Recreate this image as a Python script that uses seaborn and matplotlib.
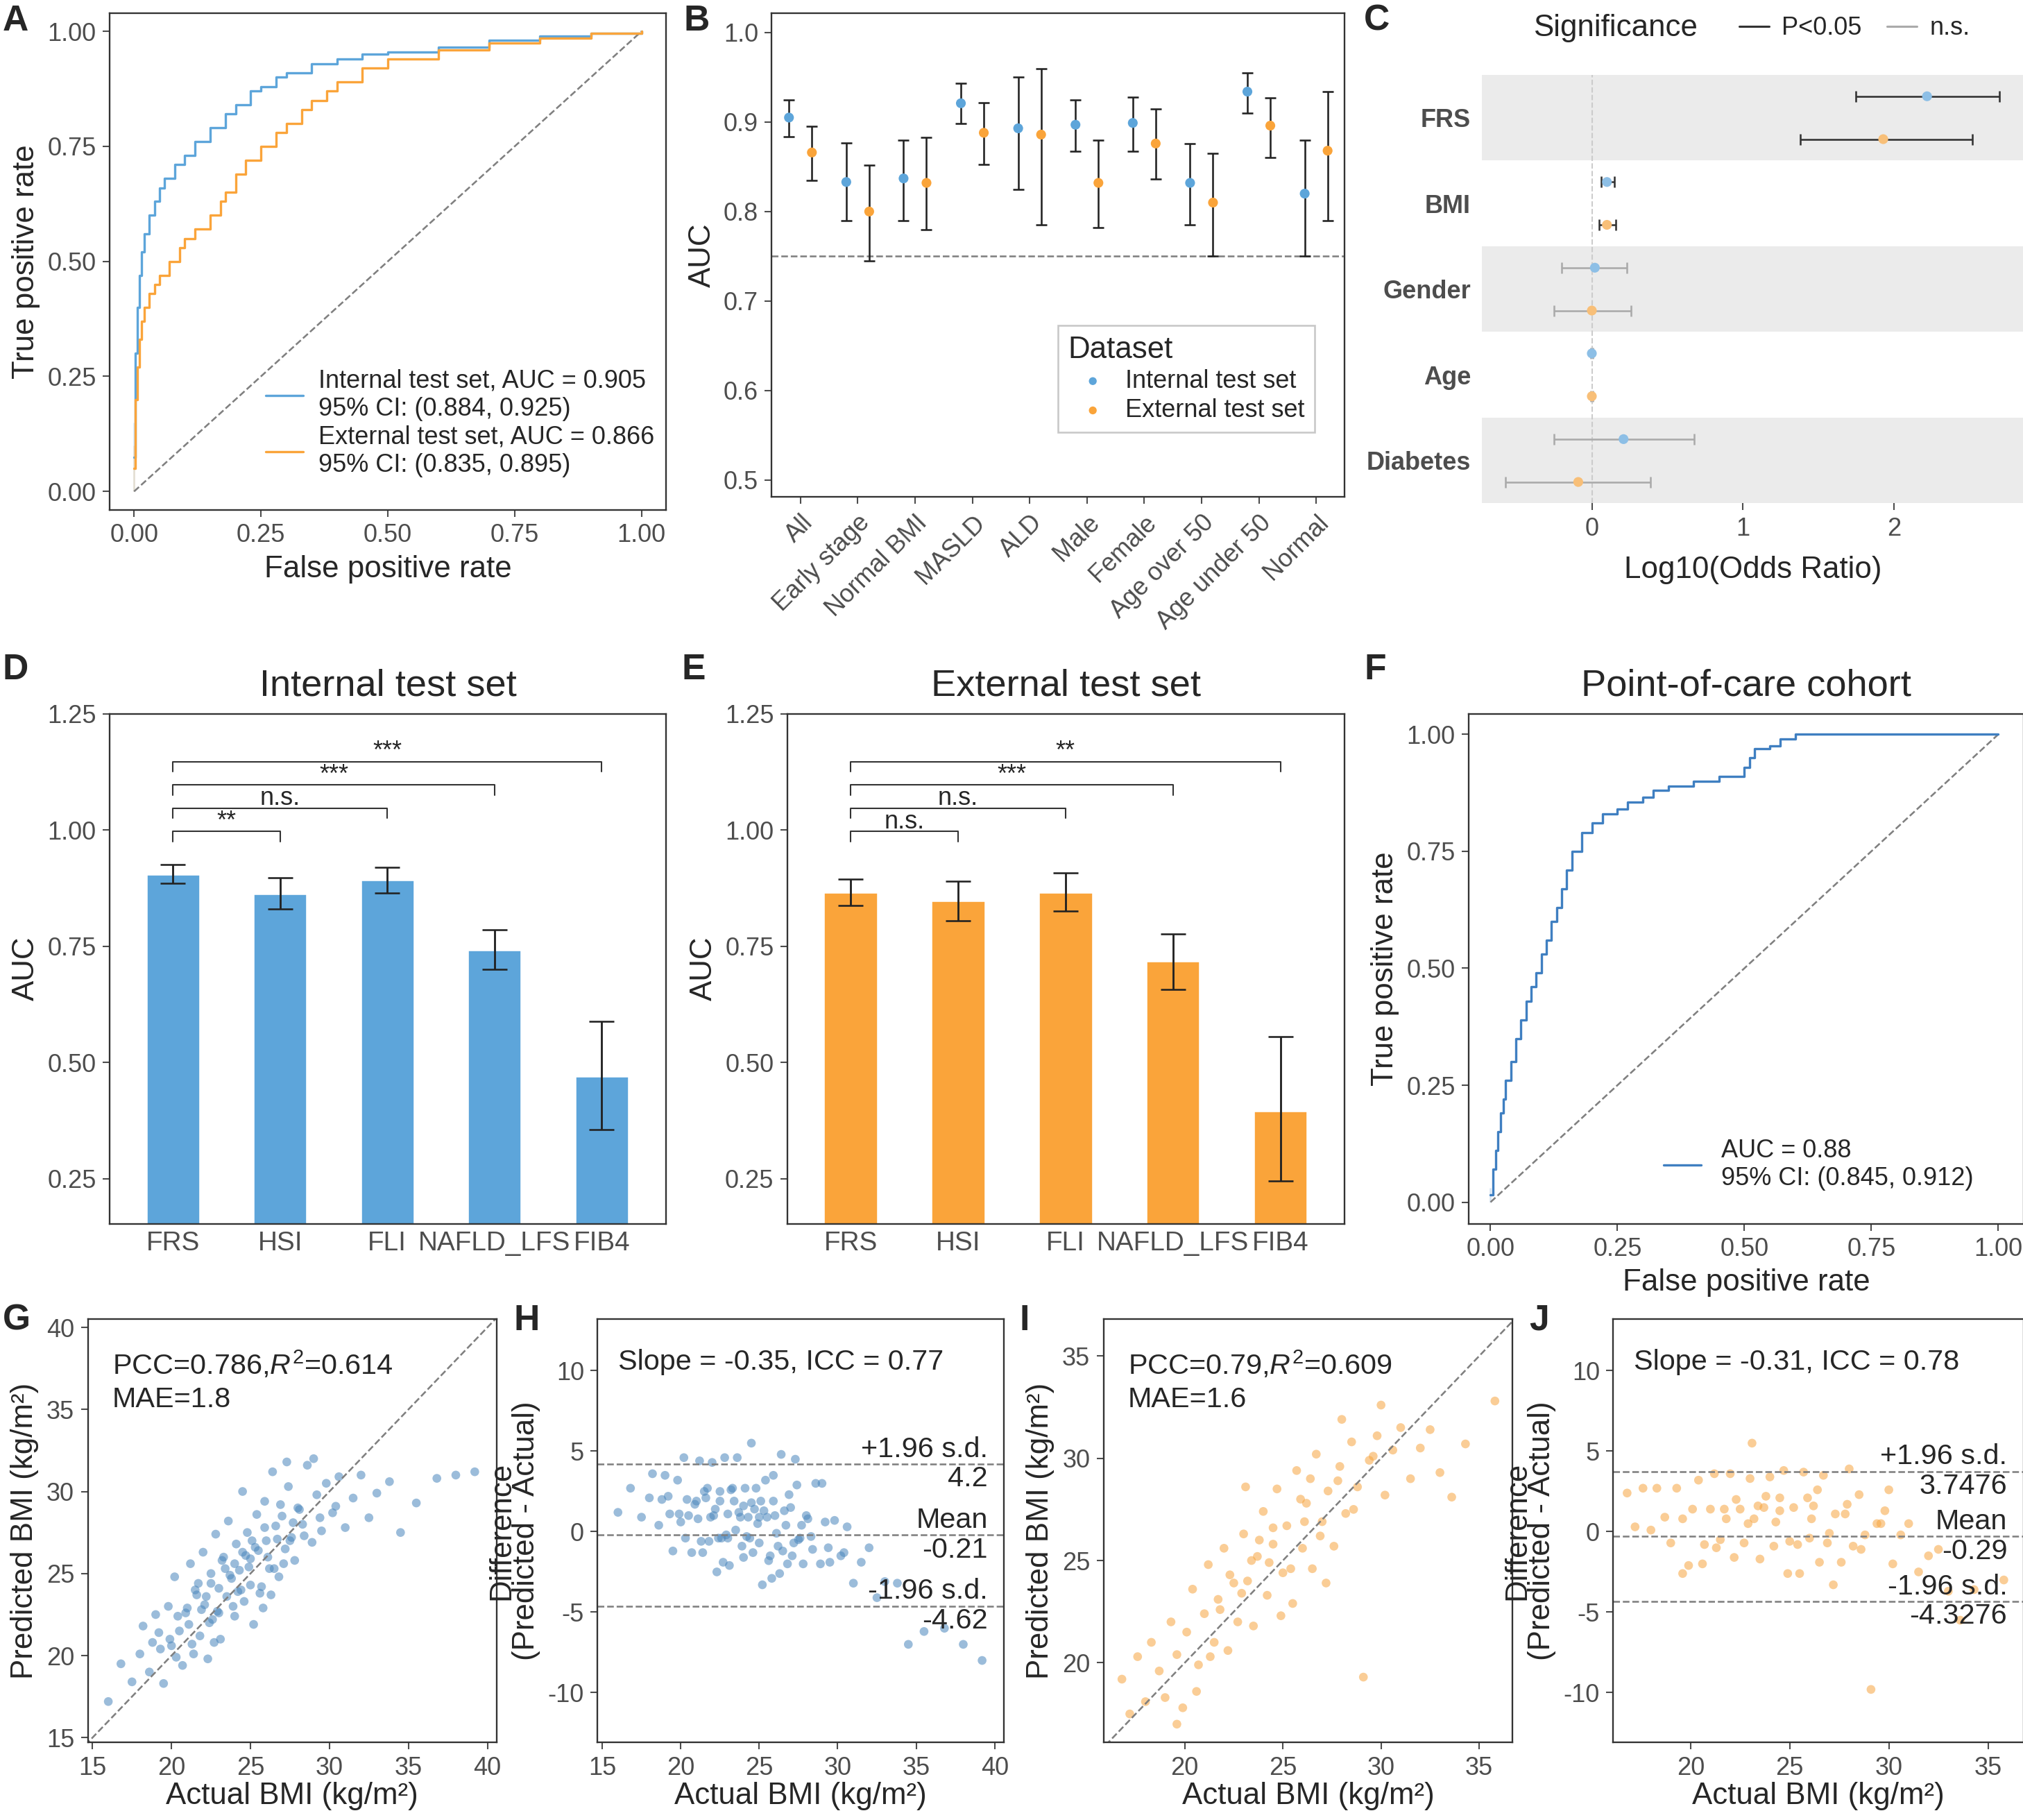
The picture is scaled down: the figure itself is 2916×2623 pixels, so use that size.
import numpy as np
import pandas as pd
import matplotlib
matplotlib.use("Agg")
import matplotlib.pyplot as plt
from matplotlib.lines import Line2D
import seaborn as sns

sns.set_theme(style="white")
plt.rcParams['font.family'] = ['Liberation Sans', 'DejaVu Sans']
plt.rcParams['mathtext.fontset'] = 'custom'
plt.rcParams['mathtext.rm'] = 'Liberation Sans'
plt.rcParams['mathtext.it'] = 'Liberation Sans:italic'
plt.rcParams['axes.unicode_minus'] = False

BLUE = "#5DA5DA"
ORANGE = "#FAA43A"
SBLUE = "#4A86BC"
SORANGE = "#F7A540"
TICKC = "#4D4D4D"

# ---- A: ROC internal / external
roc_int_fpr = [0, 0, 0.003, 0.006, 0.01, 0.015, 0.02, 0.03, 0.04, 0.05, 0.06, 0.08, 0.1, 0.12, 0.15, 0.18, 0.2,
               0.23, 0.25, 0.28, 0.3, 0.35, 0.4, 0.45, 0.5, 0.6, 0.7, 0.8, 0.9, 1]
roc_int_tpr = [0, 0.15, 0.3, 0.4, 0.47, 0.52, 0.56, 0.6, 0.63, 0.66, 0.68, 0.71, 0.73, 0.76, 0.79, 0.82, 0.84,
               0.87, 0.88, 0.9, 0.91, 0.93, 0.94, 0.95, 0.955, 0.965, 0.98, 0.99, 0.995, 1]
roc_ext_fpr = [0, 0, 0.003, 0.006, 0.01, 0.015, 0.02, 0.03, 0.04, 0.05, 0.07, 0.09, 0.1, 0.12, 0.15, 0.17, 0.18,
               0.2, 0.22, 0.25, 0.28, 0.3, 0.33, 0.35, 0.38, 0.4, 0.45, 0.5, 0.6, 0.7, 0.8, 0.9, 1]
roc_ext_tpr = [0, 0.1, 0.2, 0.27, 0.33, 0.37, 0.4, 0.43, 0.45, 0.47, 0.5, 0.53, 0.55, 0.57, 0.6, 0.63, 0.65,
               0.69, 0.72, 0.75, 0.78, 0.8, 0.83, 0.85, 0.87, 0.89, 0.92, 0.94, 0.96, 0.975, 0.985, 0.995, 1]

# ---- B: subgroup AUC
subgroups = ["All", "Early stage", "Normal BMI", "MASLD", "ALD", "Male", "Female", "Age over 50", "Age under 50", "Normal"]
b_int_auc = [0.905, 0.833, 0.837, 0.921, 0.893, 0.897, 0.899, 0.832, 0.934, 0.820]
b_int_lo = [0.884, 0.790, 0.790, 0.898, 0.825, 0.867, 0.867, 0.785, 0.910, 0.750]
b_int_hi = [0.925, 0.877, 0.880, 0.943, 0.950, 0.925, 0.928, 0.876, 0.955, 0.880]
b_ext_auc = [0.866, 0.800, 0.832, 0.888, 0.886, 0.832, 0.876, 0.810, 0.896, 0.868]
b_ext_lo = [0.835, 0.745, 0.780, 0.853, 0.785, 0.782, 0.836, 0.750, 0.860, 0.790]
b_ext_hi = [0.895, 0.852, 0.883, 0.922, 0.960, 0.880, 0.915, 0.865, 0.927, 0.934]

# ---- C: odds ratios
c_vars = ["FRS", "BMI", "Gender", "Age", "Diabetes"]
c_int_or = [2.22, 0.10, 0.02, 0.0, 0.21]
c_int_lo = [1.75, 0.06, -0.20, -0.005, -0.25]
c_int_hi = [2.70, 0.15, 0.23, 0.005, 0.68]
c_ext_or = [1.93, 0.10, 0.0, 0.0, -0.09]
c_ext_lo = [1.38, 0.05, -0.25, -0.005, -0.57]
c_ext_hi = [2.52, 0.16, 0.26, 0.005, 0.39]
c_sig = [True, True, False, False, False]

# ---- D/E: score comparisons
scores = ["FRS", "HSI", "FLI", "NAFLD_LFS", "FIB4"]
d_auc = [0.905, 0.863, 0.893, 0.742, 0.470]
d_lo = [0.885, 0.830, 0.865, 0.700, 0.355]
d_hi = [0.925, 0.897, 0.920, 0.785, 0.588]
d_sig = ["**", "n.s.", "***", "***"]
e_auc = [0.866, 0.848, 0.866, 0.718, 0.395]
e_lo = [0.838, 0.805, 0.825, 0.657, 0.245]
e_hi = [0.895, 0.890, 0.907, 0.776, 0.556]
e_sig = ["n.s.", "n.s.", "***", "**"]

# ---- F: point-of-care ROC
roc_poc_fpr = [0, 0, 0.005, 0.01, 0.015, 0.02, 0.025, 0.03, 0.04, 0.05, 0.06, 0.07, 0.08, 0.09, 0.1, 0.11, 0.12,
               0.13, 0.14, 0.15, 0.16, 0.18, 0.2, 0.22, 0.25, 0.27, 0.3, 0.32, 0.35, 0.4, 0.45, 0.5, 0.51,
               0.52, 0.55, 0.57, 0.6, 1]
roc_poc_tpr = [0, 0.03, 0.07, 0.11, 0.15, 0.19, 0.22, 0.26, 0.3, 0.35, 0.39, 0.43, 0.46, 0.49, 0.53, 0.56, 0.6,
               0.63, 0.67, 0.71, 0.75, 0.79, 0.81, 0.83, 0.84, 0.855, 0.865, 0.88, 0.89, 0.9, 0.91, 0.93, 0.95,
               0.97, 0.975, 0.99, 1.0, 1.0]

# ---- G/H: internal BMI
g_actual = [16.0, 16.8, 17.5, 18.0, 18.2, 18.6, 19.0, 19.3, 19.5, 19.8,
            20.0, 20.2, 20.5, 20.7, 21.0, 21.2, 21.4, 21.6, 21.8, 22.0,
            22.1, 22.3, 22.5, 22.6, 22.8, 23.0, 23.1, 23.3, 23.5, 23.6,
            23.8, 24.0, 24.1, 24.3, 24.5, 24.6, 24.8, 25.0, 25.2, 25.4,
            25.5, 25.7, 25.9, 26.0, 26.2, 26.4, 26.6, 26.8, 27.0, 27.2,
            27.4, 27.6, 27.8, 28.0, 28.3, 28.6, 28.9, 29.2, 29.5, 29.8,
            30.2, 30.6, 31.0, 31.5, 32.0, 32.5, 33.0, 33.8, 34.5, 35.5,
            36.8, 38.0, 39.2, 21.5, 22.7, 23.9, 24.7, 25.8, 26.9, 20.9,
            19.2, 23.4, 24.4, 27.3, 28.1, 22.4, 25.1, 26.3, 21.3, 29.0,
            18.8, 19.9, 20.4, 21.1, 21.7, 22.2, 22.9, 23.2, 23.7, 24.2,
            24.9, 25.3, 25.6, 26.1, 26.7, 27.1, 27.7, 28.4, 29.4, 30.4,
            20.3, 21.9, 22.5, 23.0, 24.0, 24.5, 25.0, 25.9, 26.5, 27.5]
g_pred = [17.2, 19.5, 18.4, 20.1, 21.8, 19.0, 22.5, 20.4, 18.3, 23.0,
          20.6, 24.8, 21.5, 19.4, 22.9, 25.6, 20.1, 23.7, 21.2, 26.3,
          23.1, 19.8, 25.0, 22.2, 27.4, 24.1, 21.0, 26.0, 23.6, 28.2,
          24.7, 22.4, 26.8, 25.2, 30.0, 23.3, 27.5, 25.9, 21.9, 28.6,
          26.4, 24.2, 29.4, 27.0, 25.3, 31.2, 27.9, 24.8, 28.5, 26.5,
          30.3, 27.2, 25.8, 29.0, 28.0, 31.6, 26.9, 29.8, 27.6, 30.5,
          28.7, 30.9, 27.8, 29.6, 31.0, 28.4, 29.9, 30.6, 27.5, 29.3,
          30.8, 31.0, 31.2, 24.0, 20.8, 23.0, 26.1, 22.9, 29.2, 22.6,
          21.4, 25.3, 24.0, 31.8, 28.9, 22.0, 27.0, 23.7, 20.7, 32.0,
          20.8, 21.0, 22.4, 21.9, 24.4, 23.6, 22.7, 25.8, 24.9, 23.9,
          25.4, 26.6, 23.8, 26.0, 27.1, 25.6, 28.1, 27.3, 28.4, 29.1,
          19.9, 22.8, 24.4, 22.6, 25.6, 26.3, 24.3, 27.8, 25.3, 27.0]
h_lines = [4.2, -0.21, -4.62]

# ---- I/J: external BMI
i_actual = [16.8, 17.2, 17.6, 18.0, 18.3, 18.7, 19.0, 19.3, 19.6, 19.9,
            20.1, 20.4, 20.7, 21.0, 21.2, 21.5, 21.7, 22.0, 22.2, 22.5,
            22.7, 23.0, 23.2, 23.5, 23.7, 24.0, 24.2, 24.5, 24.7, 25.0,
            25.2, 25.5, 25.7, 26.0, 26.2, 26.5, 26.7, 27.0, 27.3, 27.6,
            27.9, 28.2, 28.5, 28.8, 29.1, 29.4, 29.8, 30.2, 30.6, 31.0,
            31.5, 32.0, 32.5, 33.0, 33.6, 34.3, 35.8, 23.8, 26.4, 28.0,
            22.3, 24.9, 21.3, 19.6, 30.0, 25.9, 20.6, 27.2, 23.1, 24.5,
            21.8, 22.9, 23.4, 24.3, 25.4, 26.1, 26.9, 27.8, 28.6, 29.6]
i_pred = [19.2, 17.5, 20.3, 18.1, 21.0, 19.6, 18.3, 22.0, 20.4, 17.8,
          21.5, 23.6, 19.9, 22.4, 24.8, 21.0, 23.1, 25.6, 20.6, 23.9,
          22.0, 26.3, 24.0, 21.8, 25.2, 27.4, 23.3, 25.8, 28.5, 24.4,
          26.7, 22.9, 29.4, 25.6, 27.8, 24.6, 30.2, 26.9, 28.4, 25.7,
          29.6, 27.3, 30.8, 28.6, 19.3, 29.9, 31.1, 28.2, 30.4, 31.5,
          29.0, 30.5, 31.4, 29.3, 28.1, 30.7, 32.8, 26.0, 29.0, 31.9,
          24.3, 22.3, 20.3, 17.0, 32.6, 28.0, 18.6, 23.9, 28.6, 26.6,
          22.6, 23.4, 25.0, 24.9, 24.6, 26.9, 26.2, 28.9, 27.5, 30.1]
j_lines = [3.7476, -0.29, -4.3276]

W, H = 1568.0, 1410.0
fig = plt.figure(figsize=(15.68, 14.1), dpi=186.03)


def add_ax(x0, y0, x1, y1):
    return fig.add_axes([x0 / W, 1 - y1 / H, (x1 - x0) / W, (y1 - y0) / H])


def style(ax, frame=True):
    for s in ax.spines.values():
        s.set_visible(frame)
        s.set_color("#333333")
        s.set_linewidth(0.9)
    ax.tick_params(axis="both", labelsize=14, colors=TICKC, length=4, width=0.8, direction="out",
                   bottom=True, left=True)
    ax.grid(False)


def letter(x, y, t):
    fig.text(x / W, 1 - y / H, t, fontsize=20, fontweight="bold", va="top", ha="left")


# ---------- A
ax = add_ax(85, 10, 516, 395)
style(ax)
ax.plot([0, 1], [0, 1], ls="--", color="grey", lw=1)
sns.lineplot(x=roc_int_fpr, y=roc_int_tpr, ax=ax, color=BLUE, lw=1.3, drawstyle="steps-post", sort=False,
             label="Internal test set, AUC = 0.905\n95% CI: (0.884, 0.925)")
sns.lineplot(x=roc_ext_fpr, y=roc_ext_tpr, ax=ax, color=ORANGE, lw=1.3, drawstyle="steps-post", sort=False,
             label="External test set, AUC = 0.866\n95% CI: (0.835, 0.895)")
ax.set_xlim(-0.048, 1.048)
ax.set_ylim(-0.04, 1.04)
ax.set_xticks([0, 0.25, 0.5, 0.75, 1])
ax.set_xticklabels(["0.00", "0.25", "0.50", "0.75", "1.00"])
ax.set_yticks([0, 0.25, 0.5, 0.75, 1])
ax.set_yticklabels(["0.00", "0.25", "0.50", "0.75", "1.00"])
ax.set_xlabel("False positive rate", fontsize=17)
ax.set_ylabel("True positive rate", fontsize=17)
ax.legend(loc="lower right", frameon=False, fontsize=14, handlelength=1.5, labelspacing=0.15,
          bbox_to_anchor=(1.02, 0.02), handletextpad=0.6)
letter(2, 3, "A")

# ---------- B
ax = add_ax(598, 10, 1042, 385)
style(ax)
xb = np.arange(len(subgroups))
ax.axhline(0.75, ls="--", color="grey", lw=1)
ax.errorbar(xb - 0.2, b_int_auc, yerr=[np.array(b_int_auc) - b_int_lo, np.array(b_int_hi) - b_int_auc],
            fmt="none", ecolor="#222222", capsize=3, lw=1)
ax.errorbar(xb + 0.2, b_ext_auc, yerr=[np.array(b_ext_auc) - b_ext_lo, np.array(b_ext_hi) - b_ext_auc],
            fmt="none", ecolor="#222222", capsize=3, lw=1)
sns.scatterplot(x=xb - 0.2, y=b_int_auc, ax=ax, color=BLUE, s=30, edgecolor="none", zorder=3, label="Internal test set")
sns.scatterplot(x=xb + 0.2, y=b_ext_auc, ax=ax, color=ORANGE, s=30, edgecolor="none", zorder=3, label="External test set")
ax.set_xlim(-0.5, 9.5)
ax.set_ylim(0.481, 1.022)
ax.set_xticks(xb)
ax.set_xticklabels(subgroups, rotation=45, ha="right", rotation_mode="anchor")
ax.set_yticks([0.5, 0.6, 0.7, 0.8, 0.9, 1.0])
ax.set_ylabel("AUC", fontsize=17)
leg = ax.legend(title="Dataset", loc="lower left", bbox_to_anchor=(0.477, 0.107), fontsize=14,
                title_fontsize=17, frameon=True, fancybox=False, edgecolor="#BBBBBB",
                handletextpad=0.3, alignment="left", markerscale=0.8, labelspacing=0.2)
letter(530, 3, "B")

# ---------- C
ax = add_ax(1148, 58, 1568, 390)
style(ax, frame=False)
yc = np.arange(len(c_vars))[::-1]
for k, yy in enumerate(yc):
    if k % 2 == 0:
        ax.axhspan(yy - 0.5, yy + 0.5, color="#EBEBEB", zorder=0, lw=0)
ax.axvline(0, ls="--", color="#CCCCCC", lw=0.8, zorder=1)
for k, yy in enumerate(yc):
    lc = "#333333" if c_sig[k] else "#AAAAAA"
    ax.errorbar([c_int_or[k]], [yy + 0.25], xerr=[[c_int_or[k] - c_int_lo[k]], [c_int_hi[k] - c_int_or[k]]],
                fmt="none", ecolor=lc, capsize=3, lw=1, zorder=2)
    ax.errorbar([c_ext_or[k]], [yy - 0.25], xerr=[[c_ext_or[k] - c_ext_lo[k]], [c_ext_hi[k] - c_ext_or[k]]],
                fmt="none", ecolor=lc, capsize=3, lw=1, zorder=2)
sns.scatterplot(x=c_int_or, y=yc + 0.25, ax=ax, color="#8DBFE6", s=30, edgecolor="none", zorder=3)
sns.scatterplot(x=c_ext_or, y=yc - 0.25, ax=ax, color="#F8BF78", s=30, edgecolor="none", zorder=3)
ax.set_xlim(-0.73, 2.86)
ax.set_ylim(-0.5, 4.5)
ax.set_yticks(yc)
ax.set_yticklabels(c_vars, fontsize=14, fontweight="bold", color=TICKC)
ax.tick_params(axis="y", length=0, pad=6)
ax.set_xticks([0, 1, 2])
ax.set_xlabel("Log10(Odds Ratio)", fontsize=17, labelpad=8)
handles = [Line2D([], [], color="#333333", lw=1.2), Line2D([], [], color="#AAAAAA", lw=1.2)]
ax.legend(handles, ["P<0.05", "n.s."], ncol=2, frameon=False, fontsize=14, loc="center left",
          bbox_to_anchor=((1330 - 1148) / 420, 1 + 36 / 332), handlelength=1.2, columnspacing=1.0,
          handletextpad=0.5)
fig.text(1188 / W, 1 - 22 / H, "Significance", fontsize=17, va="center", ha="left")
letter(1057, 3, "C")


# ---------- D / E
def bar_panel(x0, x1, auc, lo, hi, sig, color, title, let, lx):
    ax = add_ax(x0, 553, x1, 948)
    style(ax)
    xs = np.arange(len(scores))
    df = pd.DataFrame({"score": scores, "auc": auc})
    sns.barplot(data=df, x="score", y="auc", ax=ax, color=color, width=0.5, saturation=1, order=scores)
    ax.errorbar(xs, auc, yerr=[np.array(auc) - lo, np.array(hi) - auc], fmt="none",
                ecolor="#222222", capsize=7, lw=1.1)
    ax.set_ylim(0.153, 1.25)
    ax.set_xlim(-0.59, 4.6)
    ax.set_yticks([0.25, 0.5, 0.75, 1.0, 1.25])
    ax.set_xticks(xs)
    ax.set_xticklabels(scores, fontsize=15)
    ax.tick_params(axis="x", length=0, pad=4)
    ax.set_xlabel("")
    ax.set_ylabel("AUC", fontsize=17)
    ax.set_title(title, fontsize=21, pad=10)
    for k, lvl in enumerate([0.997, 1.047, 1.097, 1.147]):
        ax.plot([0, 0, k + 1, k + 1], [lvl - 0.022, lvl, lvl, lvl - 0.022], color="#333333", lw=0.8)
        ax.text((k + 1) / 2, lvl - 0.005, sig[k], ha="center", va="bottom", fontsize=14)
    letter(lx, 506, let)


bar_panel(85, 516, d_auc, d_lo, d_hi, d_sig, BLUE, "Internal test set", "D", 2)
bar_panel(610, 1042, e_auc, e_lo, e_hi, e_sig, ORANGE, "External test set", "E", 528)

# ---------- F
ax = add_ax(1138, 553, 1568, 948)
style(ax)
ax.plot([0, 1], [0, 1], ls="--", color="grey", lw=1)
sns.lineplot(x=roc_poc_fpr, y=roc_poc_tpr, ax=ax, color="#3F7FC1", lw=1.3, drawstyle="steps-post", sort=False,
             label="AUC = 0.88\n95% CI: (0.845, 0.912)")
ax.set_xlim(-0.043, 1.05)
ax.set_ylim(-0.046, 1.044)
ax.set_xticks([0, 0.25, 0.5, 0.75, 1])
ax.set_xticklabels(["0.00", "0.25", "0.50", "0.75", "1.00"])
ax.set_yticks([0, 0.25, 0.5, 0.75, 1])
ax.set_yticklabels(["0.00", "0.25", "0.50", "0.75", "1.00"])
ax.set_xlabel("False positive rate", fontsize=17)
ax.set_ylabel("True positive rate", fontsize=17)
ax.set_title("Point-of-care cohort", fontsize=21, pad=10)
ax.legend(loc="lower right", frameon=False, fontsize=14, handlelength=1.5, bbox_to_anchor=(0.95, 0.02))
letter(1057, 506, "F")

BOT = 1350


# ---------- G-J
def scatter_panel(x0, x1, actual, pred, color, xlim, ylim, xt, yt, txt, let, lx):
    ax = add_ax(x0, 1022, x1, BOT)
    style(ax)
    ax.plot([0, 60], [0, 60], ls="--", color="grey", lw=1)
    sns.scatterplot(x=actual, y=pred, ax=ax, color=color, alpha=0.55, s=24, edgecolor="none")
    ax.set_xlim(*xlim)
    ax.set_ylim(*ylim)
    ax.set_xticks(xt)
    ax.set_yticks(yt)
    ax.set_xlabel("Actual BMI (kg/m²)", fontsize=17, labelpad=1)
    ax.set_ylabel("Predicted BMI (kg/m²)", fontsize=17)
    ax.text(0.06, 0.93, txt, transform=ax.transAxes, fontsize=16, va="top", linespacing=1.3)
    letter(lx, 1010, let)


def ba_panel(x0, x1, actual, pred, color, xlim, xt, lines, lab_bot, txt, let, lx):
    ax = add_ax(x0, 1022, x1, BOT)
    style(ax)
    diff = np.array(pred) - np.array(actual)
    sns.scatterplot(x=actual, y=diff, ax=ax, color=color, alpha=0.55, s=24, edgecolor="none")
    for v in lines:
        ax.axhline(v, ls="--", color="grey", lw=1)
    ax.set_xlim(*xlim)
    ax.set_ylim(-13.1, 13.2)
    ax.set_xticks(xt)
    ax.set_yticks([-10, -5, 0, 5, 10])
    ax.set_xlabel("Actual BMI (kg/m²)", fontsize=17, labelpad=1)
    ax.set_ylabel("Difference\n(Predicted - Actual)", fontsize=17, linespacing=0.85)
    xr = xlim[1] - (xlim[1] - xlim[0]) * 0.04
    lab_top = ["+1.96 s.d.", "Mean", "-1.96 s.d."]
    for v, a, b in zip(lines, lab_top, lab_bot):
        ax.text(xr, v + 0.1, a, ha="right", va="bottom", fontsize=16)
        ax.text(xr, v - 0.1, b, ha="right", va="top", fontsize=16)
    ax.text(0.05, 0.93, txt, transform=ax.transAxes, fontsize=16, va="top")
    letter(lx, 1010, let)


scatter_panel(68, 385, g_actual, g_pred, SBLUE, (14.7, 40.6), (14.7, 40.5), [15, 20, 25, 30, 35, 40],
              [15, 20, 25, 30, 35, 40], "PCC=0.786,$R^2$=0.614\nMAE=1.8", "G", 2)
ba_panel(463, 778, g_actual, g_pred, SBLUE, (14.7, 40.6), [15, 20, 25, 30, 35, 40], h_lines,
         ["4.2", "-0.21", "-4.62"], "Slope = -0.35, ICC = 0.77", "H", 398)
scatter_panel(855, 1172, i_actual, i_pred, SORANGE, (15.86, 36.7), (16.1, 36.8), [20, 25, 30, 35],
              [20, 25, 30, 35], "PCC=0.79,$R^2$=0.609\nMAE=1.6", "I", 790)
ba_panel(1250, 1568, i_actual, i_pred, SORANGE, (16.1, 36.8), [20, 25, 30, 35], j_lines,
         ["3.7476", "-0.29", "-4.3276"], "Slope = -0.31, ICC = 0.78", "J", 1185)

fig.savefig("out.png", dpi=186.03)
